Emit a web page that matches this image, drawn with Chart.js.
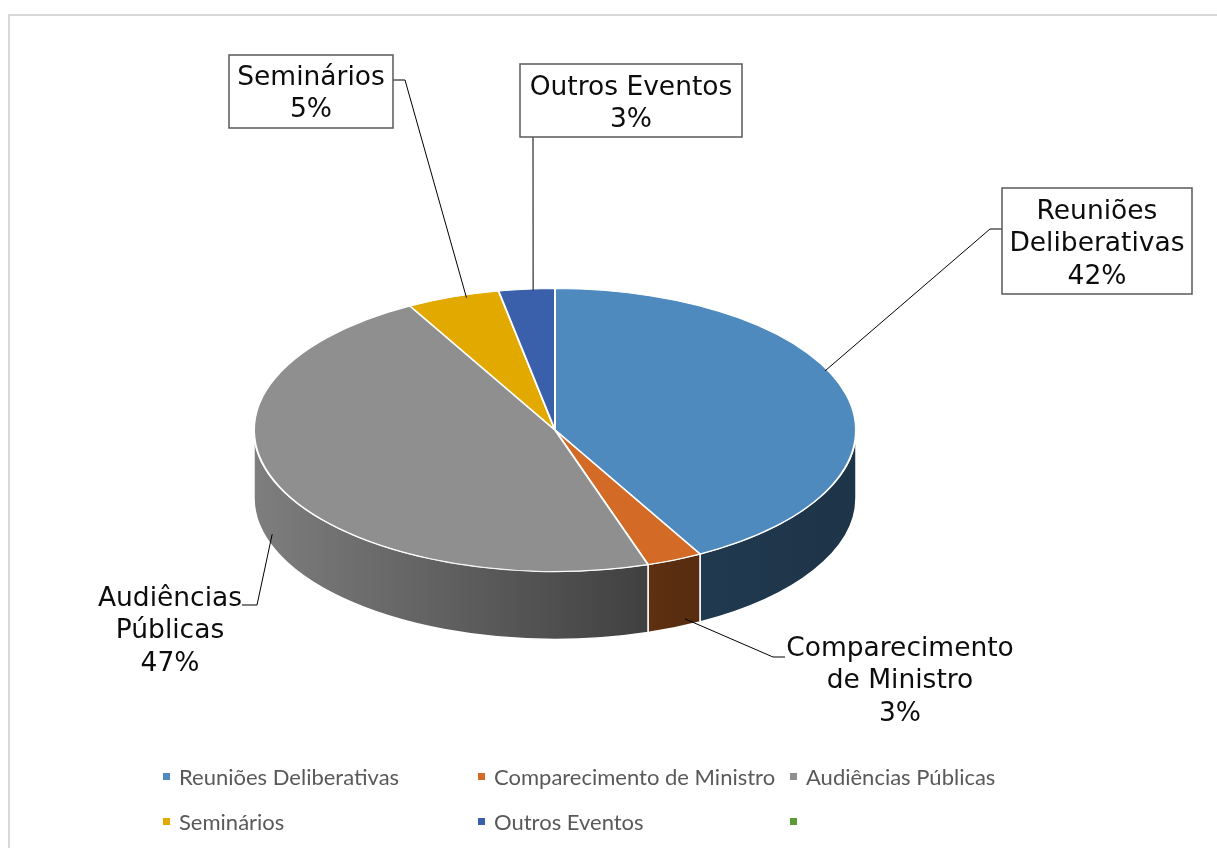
<!DOCTYPE html>
<html>
<head>
<meta charset="utf-8">
<script src="https://cdn.jsdelivr.net/npm/chart.js@4.4.1/dist/chart.umd.min.js"></script>
<style>
  body { margin: 0; width: 1217px; height: 848px; overflow: hidden; position: relative; background: #fff; }
  #frame { position: absolute; left: 8px; top: 14px; width: 1300px; height: 1000px; border: 2px solid #d9d9d9; }
  #chart { position: absolute; left: 0; top: 0; }
  .lg { position: absolute; font-family: Lato, "Open Sans", sans-serif; font-size: 22px; color: #595959; white-space: nowrap; line-height: 1; }
  .lg i { position: absolute; left: 0; top: 50%; width: 7px; height: 7px; margin-top: -4px; }
  .lg span { position: absolute; left: 16px; top: 50%; transform: translateY(-50%); }
</style>
</head>
<body>
<div id="frame"></div>
<canvas id="chart" width="1217" height="848"></canvas>
<div id="legend"></div>
<script>
// data
const CATEGORIES = ["Reuniões Deliberativas", "Comparecimento de Ministro", "Audiências Públicas", "Seminários", "Outros Eventos", ""];
const VALUES = [42, 3, 47, 5, 3, 0];
const COLORS = ["#4F8ABE", "#D36B27", "#8F8F8F", "#E2A900", "#3A5FAB", "#5B9B37"];
const LABEL_LINES = [["Reuniões", "Deliberativas"], ["Comparecimento", "de Ministro"], ["Audiências", "Públicas"], ["Seminários"], ["Outros Eventos"]];

// 3d look
const TILT = 0.47;
const DEPTH = 68;

// callout layout (label side only, slice end comes from the arc)
const CALLOUTS = [
  { x: 1097, y0: 212, box: [1002, 188, 190, 106], from: [[1002, 229], [990, 229]], at: 0.43, r: 0.99 },
  { x: 900, y0: 649, box: null, from: [[785, 657], [773, 657]], at: 0.3, r: 1, wall: 0.9 },
  { x: 170, y0: 599, box: null, from: [[242, 605], [257, 605]], at: 0.52, r: 1, wall: 0.82 },
  { x: 311, y0: 78, box: [229, 55, 164, 73], from: [[393, 80], [405, 80]], at: 0.63, r: 0.98 },
  { x: 631, y0: 88, box: [520, 64, 222, 73], from: [[533, 137]], at: 0.61, r: 0.99 }
];
const LINE_H = 32.5;

const LEGEND_COLS = [163, 478, 790];
const LEGEND_ROWS = [777, 822];

function shade(hex, f) {
  const n = parseInt(hex.slice(1), 16);
  const r = Math.round(((n >> 16) & 255) * f), g = Math.round(((n >> 8) & 255) * f), b = Math.round((n & 255) * f);
  return `rgb(${r},${g},${b})`;
}

const pie3d = {
  id: 'pie3d',
  beforeDatasetsDraw(chart) {
    const ctx = chart.ctx;
    const arcs = chart.getDatasetMeta(0).data;
    const cx = arcs[0].x, cy = arcs[0].y, R = arcs[0].outerRadius;
    // side walls, only the front half shows
    arcs.forEach((arc, i) => {
      const a0 = Math.max(arc.startAngle, 0), a1 = Math.min(arc.endAngle, Math.PI);
      if (a1 <= a0) return;
      const g = ctx.createLinearGradient(cx - R, 0, cx + R, 0);
      g.addColorStop(0, shade(COLORS[i], 0.88));
      g.addColorStop(0.7, shade(COLORS[i], 0.42));
      g.addColorStop(1, shade(COLORS[i], 0.38));
      ctx.beginPath();
      ctx.ellipse(cx, cy, R, R * TILT, 0, a0, a1);
      ctx.ellipse(cx, cy + DEPTH, R, R * TILT, 0, a1, a0, true);
      ctx.closePath();
      ctx.fillStyle = g;
      ctx.fill();
      ctx.strokeStyle = '#fff';
      ctx.lineWidth = 1.5;
      ctx.stroke();
    });
    // squash the top face
    ctx.save();
    ctx.translate(0, cy);
    ctx.scale(1, TILT);
    ctx.translate(0, -cy);
  },
  afterDatasetsDraw(chart) {
    const ctx = chart.ctx;
    ctx.restore();
    const arcs = chart.getDatasetMeta(0).data;
    const total = VALUES.reduce((a, b) => a + b, 0);
    CALLOUTS.forEach((c, i) => {
      const arc = arcs[i];
      const a = arc.startAngle + c.at * (arc.endAngle - arc.startAngle);
      const tx = arc.x + c.r * arc.outerRadius * Math.cos(a);
      const ty = arc.y + c.r * arc.outerRadius * TILT * Math.sin(a) + (c.wall ? c.wall * DEPTH : 0);
      ctx.beginPath();
      ctx.moveTo(c.from[0][0], c.from[0][1]);
      c.from.slice(1).forEach(p => ctx.lineTo(p[0], p[1]));
      ctx.lineTo(tx, ty);
      ctx.strokeStyle = '#000';
      ctx.lineWidth = 1;
      ctx.stroke();
      if (c.box) {
        ctx.fillStyle = '#fff';
        ctx.fillRect(c.box[0], c.box[1], c.box[2], c.box[3]);
        ctx.strokeStyle = '#595959';
        ctx.lineWidth = 1.5;
        ctx.strokeRect(c.box[0], c.box[1], c.box[2], c.box[3]);
      }
      const lines = LABEL_LINES[i].concat([Math.round(VALUES[i] / total * 100) + '%']);
      ctx.font = '26.5px "DejaVu Sans"';
      ctx.textAlign = 'center';
      ctx.textBaseline = 'middle';
      ctx.fillStyle = '#0d0d0d';
      lines.forEach((t, k) => ctx.fillText(t, c.x, c.y0 + k * LINE_H));
    });
  }
};

new Chart(document.getElementById('chart'), {
  type: 'pie',
  data: {
    labels: CATEGORIES,
    datasets: [{
      data: VALUES,
      backgroundColor: COLORS,
      borderColor: '#fff',
      borderWidth: 2
    }]
  },
  options: {
    responsive: false,
    animation: false,
    devicePixelRatio: 1,
    layout: { padding: { left: 253, right: 360, top: 128, bottom: 116 } },
    plugins: { legend: { display: false }, tooltip: { enabled: false } }
  },
  plugins: [pie3d]
});

// legend, laid out in columns like the original
const legend = document.getElementById('legend');
CATEGORIES.forEach((name, i) => {
  const d = document.createElement('div');
  d.className = 'lg';
  d.style.left = LEGEND_COLS[i % 3] + 'px';
  d.style.top = LEGEND_ROWS[Math.floor(i / 3)] + 'px';
  d.innerHTML = `<i style="background:${COLORS[i]}"></i><span>${name}</span>`;
  legend.appendChild(d);
});
</script>
</body>
</html>
